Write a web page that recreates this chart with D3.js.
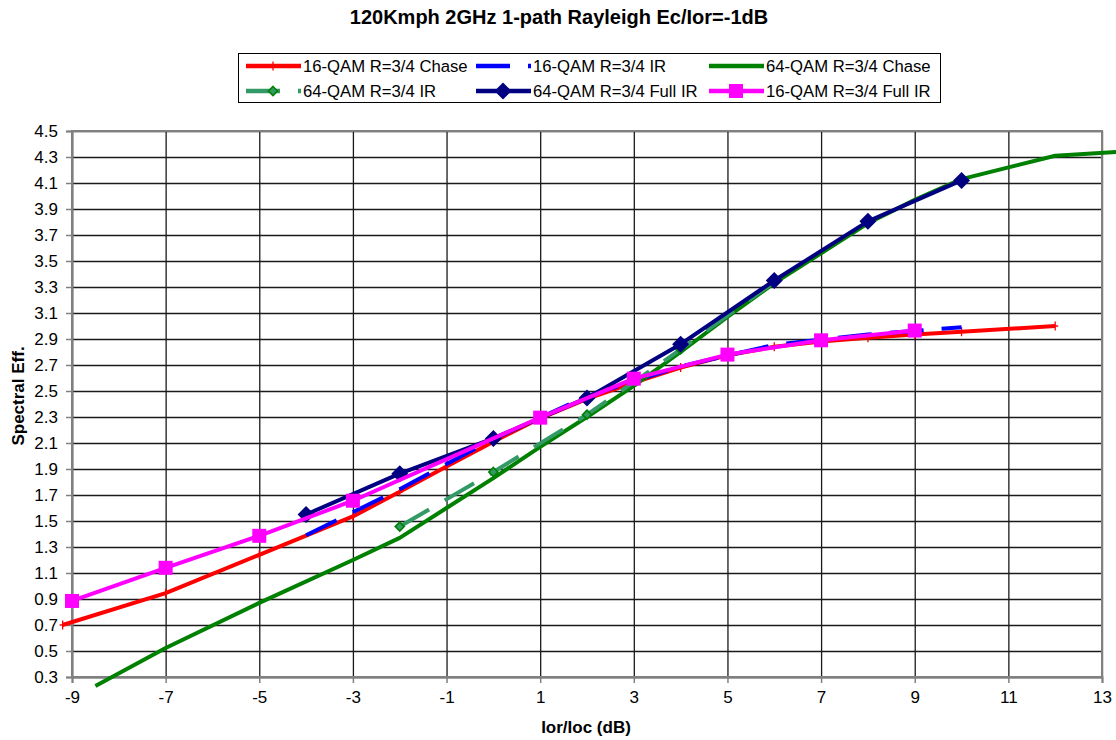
<!DOCTYPE html>
<html><head><meta charset="utf-8">
<script src="https://cdn.jsdelivr.net/npm/d3@7"></script>
<style>body{margin:0;background:#fff} svg{display:block;font-family:"Liberation Sans",Arial,sans-serif}</style>
</head><body><svg id="c" width="1116" height="740"></svg>
<script>
// ---- data ----
const xTicks = [-9,-7,-5,-3,-1,1,3,5,7,9,11,13];
const yTicks = [0.3,0.5,0.7,0.9,1.1,1.3,1.5,1.7,1.9,2.1,2.3,2.5,2.7,2.9,3.1,3.3,3.5,3.7,3.9,4.1,4.3,4.5];
const seriesNames = ["16-QAM R=3/4 Chase","16-QAM R=3/4 IR","64-QAM R=3/4 Chase","64-QAM R=3/4 IR","64-QAM R=3/4 Full IR","16-QAM R=3/4 Full IR"];
const chase16X = [-9.2,-7,-5,-3,-2,-1,0,1,2,3,4,5,6,7,8,9,10,12];
const chase16Y = [0.70,0.945,1.24,1.535,1.725,1.92,2.11,2.29,2.44,2.565,2.68,2.775,2.84,2.88,2.91,2.935,2.955,3.0];
const ir16X = [-4,-2,0,2,4,6,8,10];
const ir16Y = [1.39,1.745,2.13,2.46,2.69,2.855,2.935,2.99];
const chase64X = [-8.5,-7,-5,-3,-2,-1,0,1,2,3,4,5,6,7,8,9,10,12,14];
const chase64Y = [0.23,0.523,0.87,1.20,1.37,1.60,1.83,2.07,2.30,2.54,2.80,3.07,3.33,3.56,3.79,3.97,4.13,4.31,4.355];
const ir64X = [-2,0,2,4,6];
const ir64Y = [1.457,1.877,2.318,2.82,3.34];
const fullIr64X = [-4,-2,0,2,4,6,8,10];
const fullIr64Y = [1.55,1.864,2.135,2.447,2.86,3.35,3.805,4.12];
const fullIr16X = [-9,-7,-5,-3,1,3,5,7,9];
const fullIr16Y = [0.885,1.14,1.386,1.656,2.295,2.595,2.78,2.89,2.965];

// ---- styles ----
const styles = [
  {color:"#FF0000", dash:null, marker:"plus"},
  {color:"#0000FF", dash:"34,18", marker:null},
  {color:"#008000", dash:null, marker:null},
  {color:"#339966", dash:"34,18", marker:"smallDiamond"},
  {color:"#000080", dash:null, marker:"diamond"},
  {color:"#FF00FF", dash:null, marker:"square"}
];
const seriesX = [chase16X, ir16X, chase64X, ir64X, fullIr64X, fullIr16X];
const seriesY = [chase16Y, ir16Y, chase64Y, ir64Y, fullIr64Y, fullIr16Y];

const svg = d3.select("#c");
const L = 72, R = 1102, T = 131, B = 677;
const x = d3.scaleLinear().domain([-9,13]).range([L,R]);
const y = d3.scaleLinear().domain([0.3,4.5]).range([B,T]);

// title
svg.append("text").attr("x",559).attr("y",17).attr("dy","0.35em").attr("text-anchor","middle")
  .attr("font-size","20px").attr("font-weight","bold").text("120Kmph 2GHz 1-path Rayleigh Ec/Ior=-1dB");

// grid
svg.append("g").attr("transform",`translate(0,${B})`)
  .call(d3.axisBottom(x).tickValues(xTicks).tickSize(-(B-T)).tickFormat(""))
  .call(g=>{g.select(".domain").remove(); g.selectAll("line").attr("stroke","#1a1a1a").attr("stroke-width",1.3);});
svg.append("g").attr("transform",`translate(${L},0)`)
  .call(d3.axisLeft(y).tickValues(yTicks).tickSize(-(R-L)).tickFormat(""))
  .call(g=>{g.select(".domain").remove(); g.selectAll("line").attr("stroke","#1a1a1a").attr("stroke-width",1.3);});

// plot border
svg.append("rect").attr("x",L).attr("y",T).attr("width",R-L).attr("height",B-T)
  .attr("fill","none").attr("stroke","#808080").attr("stroke-width",2);

// axes
svg.append("g").attr("transform",`translate(0,${B})`)
  .call(d3.axisBottom(x).tickValues(xTicks).tickSize(6).tickPadding(8).tickFormat(d=>String(d)))
  .call(g=>{g.select(".domain").attr("stroke","#808080").attr("stroke-width",2);
    g.selectAll("line").attr("stroke","#808080").attr("stroke-width",1.5);
    g.selectAll("text").attr("font-size","17px").attr("fill","#000").attr("font-family",'"Liberation Sans",Arial,sans-serif');});
svg.append("g").attr("transform",`translate(${L},0)`)
  .call(d3.axisLeft(y).tickValues(yTicks).tickSize(6).tickPadding(8).tickFormat(d=>d.toFixed(1)))
  .call(g=>{g.select(".domain").attr("stroke","#808080").attr("stroke-width",2);
    g.selectAll("line").attr("stroke","#808080").attr("stroke-width",1.5);
    g.selectAll("text").attr("font-size","17px").attr("fill","#000").attr("font-family",'"Liberation Sans",Arial,sans-serif');});

// axis titles
svg.append("text").attr("x",586).attr("y",727).attr("dy","0.35em").attr("text-anchor","middle")
  .attr("font-size","17px").attr("font-weight","bold").text("Ior/Ioc (dB)");
svg.append("text").attr("transform","translate(18,396) rotate(-90)").attr("dy","0.35em").attr("text-anchor","middle")
  .attr("font-size","17px").attr("font-weight","bold").text("Spectral Eff.");

// markers
function drawMarker(g, kind, cx, cy, color){
  if(kind==="plus"){
    g.append("path").attr("d",`M${cx-3},${cy}H${cx+3}M${cx},${cy-4.5}V${cy+4.5}`).attr("stroke",color).attr("stroke-width",1.3).attr("fill","none");
  } else if(kind==="square"){
    g.append("rect").attr("x",cx-7).attr("y",cy-7).attr("width",14).attr("height",14).attr("fill",color);
  } else if(kind==="diamond"){
    g.append("path").attr("d",`M${cx},${cy-8.5}L${cx+8.5},${cy}L${cx},${cy+8.5}L${cx-8.5},${cy}Z`).attr("fill",color);
  } else if(kind==="smallDiamond"){
    g.append("path").attr("d",`M${cx},${cy-4.5}L${cx+4.5},${cy}L${cx},${cy+4.5}L${cx-4.5},${cy}Z`)
      .attr("fill",color).attr("stroke","#008000").attr("stroke-width",1.6);
  }
}

const line = d3.line().x(d=>x(d[0])).y(d=>y(d[1]));
const plot = svg.append("g");
seriesX.forEach((xs,i)=>{
  const pts = xs.map((v,j)=>[v, seriesY[i][j]]);
  const st = styles[i];
  const g = plot.append("g");
  g.append("path").datum(pts).attr("d",line).attr("fill","none").attr("stroke",st.color)
    .attr("stroke-width",4).attr("stroke-linejoin","round")
    .attr("stroke-dasharray",st.dash);
  if(st.marker) pts.forEach(p=>drawMarker(g, st.marker, x(p[0]), y(p[1]), st.color));
});

// legend
const lg = svg.append("g");
lg.append("rect").attr("x",238.5).attr("y",53.5).attr("width",702).attr("height",49)
  .attr("fill","#fff").attr("stroke","#000").attr("stroke-width",1);
const cols = [246,476,709], rows = [66,91];
seriesNames.forEach((name,i)=>{
  const cx = cols[i%3], cy = rows[Math.floor(i/3)], st = styles[i];
  lg.append("line").attr("x1",cx).attr("x2",cx+55).attr("y1",cy).attr("y2",cy)
    .attr("stroke",st.color).attr("stroke-width",4.5).attr("stroke-dasharray",st.dash);
  if(st.marker) drawMarker(lg, st.marker, cx+27, cy, st.color);
  lg.append("text").attr("x",cx+57).attr("y",cy).attr("dy","0.35em").attr("font-size","16.7px").text(name);
});
</script></body></html>
